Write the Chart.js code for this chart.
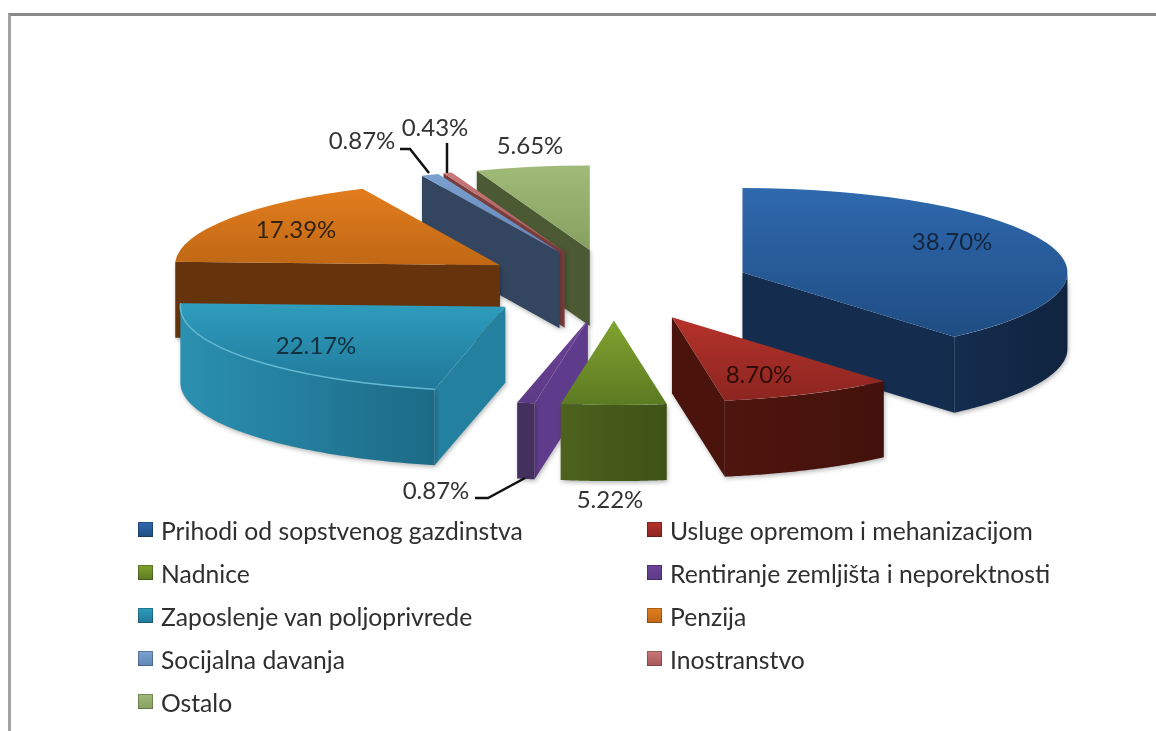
<!DOCTYPE html>
<html lang="sr">
<head>
    <meta charset="UTF-8">
    <title>Izvori prihoda</title>
    <script src="https://cdn.jsdelivr.net/npm/chart.js@4"></script>
    <style>
        html, body { margin: 0; padding: 0; background: #fff; overflow: hidden; }
        #wrap { position: relative; width: 1156px; height: 731px; overflow: hidden; }
        #frame {
            position: absolute; left: 8px; top: 13px; right: -10px; bottom: -10px;
            border-top: 3px solid #8a8a8a; border-left: 3px solid #a2a2a2;
        }
        canvas { position: absolute; left: 0; top: 0; }
        .item {
            position: absolute; height: 30px; line-height: 30px; white-space: nowrap;
            font-family: Lato, sans-serif; font-size: 24.7px; color: #2f2f2f;
        }
        .swatch {
            position: absolute; left: 0; top: 6px; width: 15px; height: 15px;
            box-shadow: inset 0 0 0 1px rgba(0, 0, 0, 0.25);
        }
        .item span.text { position: absolute; left: 23px; top: 0; }
    </style>
</head>
<body>
<div id="wrap">
    <div id="frame"></div>
    <canvas id="chart" width="1156" height="731"></canvas>
    <div id="legend"></div>
</div>
<script>
    const categories = [
        'Prihodi od sopstvenog gazdinstva',
        'Usluge opremom i mehanizacijom',
        'Nadnice',
        'Rentiranje zemljišta i neporektnosti',
        'Zaposlenje van poljoprivrede',
        'Penzija',
        'Socijalna davanja',
        'Inostranstvo',
        'Ostalo'
    ];
    const shares = [38.70, 8.70, 5.22, 0.87, 22.17, 17.39, 0.87, 0.43, 5.65];

    // styles, one entry per slice
    const topLight = ['#2f69ae', '#b5322b', '#80a32f', '#6d4398', '#2f9dbd', '#e27d1e', '#7ba1d0', '#c87878', '#a0bb78'];
    const topDark = ['#1f4d83', '#8c2520', '#5c7a22', '#5d3a86', '#20789a', '#c06815', '#5f86b8', '#a85858', '#86a060'];
    const sideFace = ['#142d4f', '#4a140d', '#4a5f1c', '#5f3b8b', '#24809f', '#65330c', '#344560', '#7a3d3d', '#4b5a33'];
    const arcLeft = ['#142c4e', '#4e150e', '#4c621d', '#43305f', '#2b90b1', '#65330c', '#344560', '#7a3d3d', '#4b5a33'];
    const arcRight = ['#10243f', '#43110b', '#3e5217', '#43305f', '#1c6a86', '#65330c', '#344560', '#7a3d3d', '#4b5a33'];
    const rimColors = [null, null, null, null, '#63b8d2', null, null, null, null];

    // page layout of the labels
    const labelAt = [[952, 242], [759, 375], [610, 500], [436, 491], [316, 346], [296, 230], [362, 141], [435, 128], [530, 146]];
    const labelInk = ['#14263f', '#2e0d08', '#333', '#333', '#13303f', '#33220f', '#333', '#333', '#333'];
    const leaders = [
        [[475, 498], [488, 498], [525, 478]],
        [[400, 149], [410, 149], [429, 173]],
        [[447, 143], [447, 173]]
    ];
    const legendCols = [138, 647];
    const legendRowY = [516, 559, 602, 645, 688];

    const SQUASH = 0.26, EXPLODE = 137, DEPTH = 76, RADIUS = 325, CENTER_Y = 285;

    function sliceRange(index) {
        const total = shares.reduce((a, b) => a + b, 0);
        const before = shares.slice(0, index).reduce((a, b) => a + b, 0);
        const a0 = before / total * Math.PI * 2;
        const a1 = (before + shares[index]) / total * Math.PI * 2;
        const ys = [0, -Math.cos(a0), -Math.cos(a1)];
        if (a0 < Math.PI && a1 > Math.PI) ys.push(1);
        return [Math.min(...ys) * RADIUS, Math.max(...ys) * RADIUS];
    }

    function topFill(c) {
        const area = c.chart.chartArea;
        if (!area) return topLight[c.dataIndex];
        const mid = (area.top + area.bottom) / 2;
        const [lo, hi] = sliceRange(c.dataIndex);
        const g = c.chart.ctx.createLinearGradient(0, mid + lo, 0, mid + hi);
        g.addColorStop(0, topLight[c.dataIndex]);
        g.addColorStop(1, topDark[c.dataIndex]);
        return g;
    }

    // pie controller that lays its arcs flat, pulls them apart and gives them walls
    class Pie3dController extends Chart.PieController {
        place(arc) {
            const mid = (arc.startAngle + arc.endAngle) / 2;
            return {
                dx: Math.cos(mid) * EXPLODE,
                dy: CENTER_Y + Math.sin(mid) * EXPLODE * SQUASH
            };
        }

        onScreen(arc, angle, r) {
            const p = this.place(arc);
            return [arc.x + p.dx + Math.cos(angle) * r, p.dy + Math.sin(angle) * r * SQUASH];
        }

        drawRadialWall(ctx, arc, angle, color) {
            const a = this.onScreen(arc, angle, 0);
            const b = this.onScreen(arc, angle, arc.outerRadius);
            ctx.fillStyle = color;
            ctx.beginPath();
            ctx.moveTo(a[0], a[1]);
            ctx.lineTo(b[0], b[1]);
            ctx.lineTo(b[0], b[1] + DEPTH);
            ctx.lineTo(a[0], a[1] + DEPTH);
            ctx.closePath();
            ctx.fill();
        }

        drawArcWall(ctx, arc, from, to, left, right) {
            if (to <= from) return;
            const steps = 60;
            const pts = [];
            for (let i = 0; i <= steps; i++) {
                pts.push(this.onScreen(arc, from + (to - from) * i / steps, arc.outerRadius));
            }
            const xs = pts.map(p => p[0]);
            const g = ctx.createLinearGradient(Math.min(...xs), 0, Math.max(...xs), 0);
            g.addColorStop(0, left);
            g.addColorStop(1, right);
            ctx.fillStyle = g;
            ctx.beginPath();
            pts.forEach((p, i) => i ? ctx.lineTo(p[0], p[1]) : ctx.moveTo(p[0], p[1]));
            pts.slice().reverse().forEach(p => ctx.lineTo(p[0], p[1] + DEPTH));
            ctx.closePath();
            ctx.fill();
        }

        draw() {
            const ctx = this.chart.ctx;
            const arcs = this.getMeta().data;
            const order = arcs.map((arc, i) => i).sort((a, b) =>
                Math.sin((arcs[a].startAngle + arcs[a].endAngle) / 2) -
                Math.sin((arcs[b].startAngle + arcs[b].endAngle) / 2));

            // walls, back to front
            ctx.save();
            ctx.shadowColor = 'rgba(0, 0, 0, 0.28)';
            ctx.shadowBlur = 4;
            ctx.shadowOffsetX = 1;
            ctx.shadowOffsetY = 2;
            order.forEach(i => {
                const arc = arcs[i];
                // angles here start from 3 o'clock, going clockwise
                if (Math.sin(arc.startAngle + Math.PI / 2) < -1e-6) {
                    this.drawRadialWall(ctx, arc, arc.startAngle, sideFace[i]);
                }
                if (Math.sin(arc.endAngle + Math.PI / 2) > 1e-6) {
                    this.drawRadialWall(ctx, arc, arc.endAngle, sideFace[i]);
                }
                // outer rim faces the viewer only on the lower half
                const from = Math.max(arc.startAngle, 0);
                const to = Math.min(arc.endAngle, Math.PI);
                this.drawArcWall(ctx, arc, from, to, arcLeft[i], arcRight[i]);
            });
            ctx.restore();

            // top faces are the library's own arcs
            arcs.forEach((arc, i) => {
                const p = this.place(arc);
                ctx.save();
                ctx.translate(p.dx, p.dy);
                ctx.scale(1, SQUASH);
                ctx.translate(0, -arc.y);
                arc.draw(ctx);
                ctx.restore();

                if (rimColors[i]) {
                    ctx.strokeStyle = rimColors[i];
                    ctx.lineWidth = 1.5;
                    ctx.beginPath();
                    const steps = 60;
                    for (let s = 0; s <= steps; s++) {
                        const a = arc.startAngle + (arc.endAngle - arc.startAngle) * s / steps;
                        const q = this.onScreen(arc, a, arc.outerRadius);
                        s ? ctx.lineTo(q[0], q[1]) : ctx.moveTo(q[0], q[1]);
                    }
                    ctx.stroke();
                }
            });
        }
    }
    Pie3dController.id = 'pie3d';
    Pie3dController.defaults = {};
    Chart.register(Pie3dController);

    const labelPlugin = {
        id: 'sliceLabels',
        afterDatasetsDraw(chart) {
            const ctx = chart.ctx;
            ctx.save();
            ctx.strokeStyle = '#111';
            ctx.lineWidth = 2.5;
            leaders.forEach(line => {
                ctx.beginPath();
                line.forEach((p, i) => i ? ctx.lineTo(p[0], p[1]) : ctx.moveTo(p[0], p[1]));
                ctx.stroke();
            });
            ctx.font = '24px Lato, sans-serif';
            ctx.textAlign = 'center';
            ctx.textBaseline = 'middle';
            shares.forEach((v, i) => {
                ctx.fillStyle = labelInk[i];
                ctx.fillText(v.toFixed(2) + '%', labelAt[i][0], labelAt[i][1]);
            });
            ctx.restore();
        }
    };

    new Chart(document.getElementById('chart'), {
        type: 'pie3d',
        data: {
            labels: categories,
            datasets: [{
                data: shares,
                backgroundColor: topFill,
                borderWidth: 0
            }]
        },
        options: {
            responsive: false,
            animation: false,
            radius: RADIUS,
            layout: { padding: { left: 72 } },
            plugins: { legend: { display: false }, tooltip: { enabled: false } }
        },
        plugins: [labelPlugin]
    });

    // legend, two columns filled row by row
    const legend = document.getElementById('legend');
    categories.forEach((name, i) => {
        const item = document.createElement('div');
        item.className = 'item';
        item.style.left = legendCols[i % 2] + 'px';
        item.style.top = legendRowY[Math.floor(i / 2)] + 'px';
        const swatch = document.createElement('span');
        swatch.className = 'swatch';
        swatch.style.background = 'linear-gradient(' + topLight[i] + ',' + topDark[i] + ')';
        const text = document.createElement('span');
        text.className = 'text';
        text.textContent = name;
        item.appendChild(swatch);
        item.appendChild(text);
        legend.appendChild(item);
    });
</script>
</body>
</html>
